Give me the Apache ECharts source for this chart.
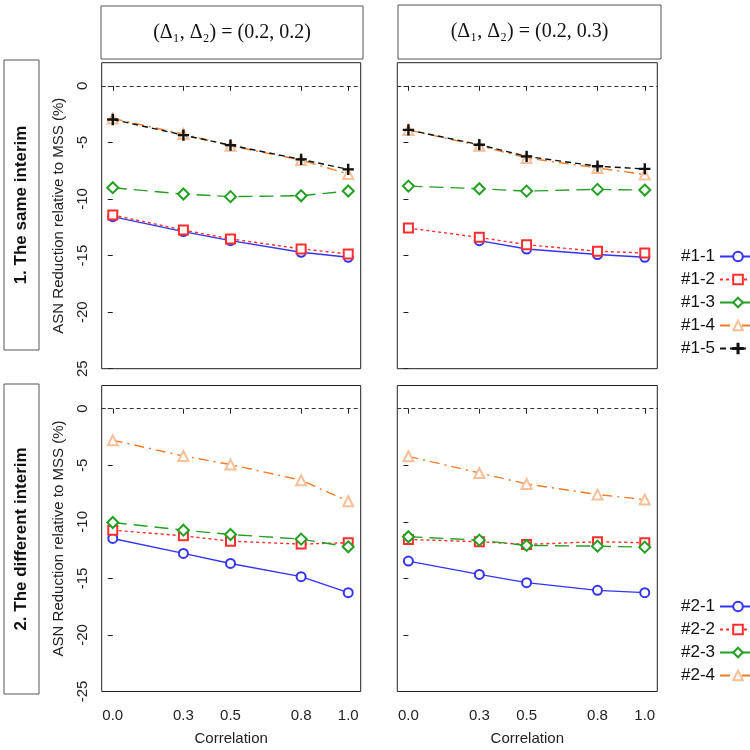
<!DOCTYPE html>
<html>
<head>
<meta charset="utf-8">
<script src="https://cdn.jsdelivr.net/npm/echarts@6/dist/echarts.min.js"></script>
<style>html,body{margin:0;padding:0;background:#fff}#c{width:750px;height:750px}</style>
</head>
<body>
<div id="c"></div>
<script>
// ---- data ----
const correlation = [0.0, 0.3, 0.5, 0.8, 1.0];
const yTicks = [-25, -20, -15, -10, -5, 0];
const colTitles = ['(Δ₁, Δ₂) = (0.2, 0.2)', '(Δ₁, Δ₂) = (0.2, 0.3)'];
const rowTitles = ['1. The same interim', '2. The different interim'];
const yName = 'ASN Reduction relative to MSS (%)';
const xName = 'Correlation';
const names1 = ['#1-1', '#1-2', '#1-3', '#1-4', '#1-5'];
const names2 = ['#2-1', '#2-2', '#2-3', '#2-4'];

// 1. same interim, (0.2,0.2)
const s11_A = [-11.56, -12.88, -13.68, -14.71, -15.15];
const s12_A = [-11.41, -12.74, -13.53, -14.41, -14.85];
const s13_A = [-9.00, -9.56, -9.79, -9.71, -9.29];
const s14_A = [-2.88, -4.26, -5.29, -6.56, -7.79];
const s15_A = [-2.97, -4.35, -5.24, -6.50, -7.38];
// 1. same interim, (0.2,0.3)
const s11_B = [null, -13.68, -14.42, -14.91, -15.15];
const s12_B = [-12.57, -13.39, -14.04, -14.62, -14.77];
const s13_B = [-8.86, -9.09, -9.30, -9.15, -9.21];
const s14_B = [-3.89, -5.29, -6.37, -7.25, -7.84];
const s15_B = [-3.89, -5.20, -6.23, -7.10, -7.34];
// 2. different interim, (0.2,0.2)
const s21_A = [-11.47, -12.79, -13.68, -14.85, -16.26];
const s22_A = [-10.74, -11.24, -11.71, -11.97, -11.85];
const s23_A = [-10.06, -10.74, -11.12, -11.53, -12.21];
const s24_A = [-2.79, -4.18, -4.94, -6.32, -8.18];
// 2. different interim, (0.2,0.3)
const s21_B = [-13.47, -14.65, -15.38, -16.06, -16.26];
const s22_B = [-11.56, -11.76, -12.00, -11.76, -11.85];
const s23_B = [-11.32, -11.62, -12.09, -12.15, -12.24];
const s24_B = [-4.21, -5.68, -6.65, -7.59, -8.03];

// ---- styles ----
const PLUS = 'path://M4.45,0H5.55V4.45H10V5.55H5.55V10H4.45V5.55H0V4.45H4.45Z';
const styles = [
  {line: '#3434f5', mark: '#3434f5', type: 'solid', symbol: 'emptyCircle', size: 9},
  {line: '#ff2e2e', mark: '#ff2e2e', type: [3, 3], symbol: 'emptyRect', size: 9},
  {line: '#22a022', mark: '#22a022', type: [14, 7], symbol: 'emptyDiamond', size: 11},
  {line: '#f27b25', mark: '#f9bf98', type: [10, 5, 2, 5], symbol: 'emptyTriangle', size: 10},
  {line: '#111111', mark: '#111111', type: [6, 4], symbol: PLUS, size: 10}
];

const FONT = 'Liberation Sans, Arial, sans-serif';
const grids = [
  {left: 101.7, top: 62.7, width: 259, height: 306},
  {left: 397.3, top: 62.7, width: 260, height: 306},
  {left: 101.7, top: 385.5, width: 259, height: 306},
  {left: 397.3, top: 385.5, width: 260, height: 306}
];

const panels = [
  {names: names1, data: [s11_A, s12_A, s13_A, s14_A, s15_A]},
  {names: names1, data: [s11_B, s12_B, s13_B, s14_B, s15_B]},
  {names: names2, data: [s21_A, s22_A, s23_A, s24_A]},
  {names: names2, data: [s21_B, s22_B, s23_B, s24_B]}
];

const xAxes = grids.map((g, i) => ({
  gridIndex: i, type: 'value', min: -0.047, max: 1.053,
  axisLine: {show: false}, splitLine: {show: false},
  axisTick: {show: true, customValues: correlation, length: 5, lineStyle: {color: '#222'}},
  axisLabel: {show: i >= 2, customValues: correlation, formatter: v => v.toFixed(1),
    margin: 17, fontSize: 15, color: '#222', fontFamily: FONT},
  name: i >= 2 ? xName : '', nameLocation: 'middle', nameGap: 40,
  nameTextStyle: {fontSize: 15, color: '#222', fontFamily: FONT}
}));

const yAxes = grids.map((g, i) => ({
  gridIndex: i, type: 'value', min: -25, max: 2.05,
  axisLine: {show: false}, splitLine: {show: false},
  axisTick: {show: true, customValues: yTicks, length: 5, lineStyle: {color: '#222'}},
  axisLabel: {show: i % 2 === 0, customValues: yTicks, rotate: 90, margin: 11,
    formatter: v => (i === 0 && v === -25) ? '25' : String(v),
    fontSize: 15, color: '#222', fontFamily: FONT},
  name: i % 2 === 0 ? yName : '', nameLocation: 'middle', nameGap: 35, nameRotate: 90,
  nameTextStyle: {fontSize: 15, color: '#222', fontFamily: FONT}
}));

const series = [];
panels.forEach((p, gi) => {
  p.data.forEach((vals, k) => {
    const st = styles[k];
    const s = {
      type: 'line', name: p.names[k], xAxisIndex: gi, yAxisIndex: gi,
      data: correlation.map((x, j) => [x, vals[j]]),
      symbol: st.symbol, symbolSize: st.size, showSymbol: true,
      lineStyle: {color: st.line, width: 1.4, type: st.type},
      itemStyle: {color: st.mark, borderColor: st.mark, borderWidth: 1.3},
      connectNulls: false, z: 3 + k
    };
    if (k === 0) {
      s.markLine = {silent: true, symbol: 'none', label: {show: false},
        lineStyle: {color: '#333', type: [4, 3], width: 1}, data: [{yAxis: 0}]};
    }
    series.push(s);
  });
});

const legendBase = {
  orient: 'vertical', left: 676, align: 'right', itemWidth: 36, itemHeight: 12,
  itemGap: 6, selectedMode: false,
  textStyle: {fontSize: 17, color: '#111', fontFamily: FONT}
};

const graphic = [];
// column headers
[[101, 6, 262, 53], [398, 5, 263, 54]].forEach((b, i) => {
  graphic.push({type: 'rect', shape: {x: b[0], y: b[1], width: b[2], height: b[3]},
    style: {fill: '#fff', stroke: '#555', lineWidth: 1}, silent: true});
  graphic.push({type: 'text', x: b[0] + b[2] / 2, y: b[1] + b[3] / 2,
    style: {text: colTitles[i], align: 'center', verticalAlign: 'middle',
      font: '20px "Liberation Serif", serif', fill: '#111'}, silent: true});
});
// row headers
[[4, 60, 35, 290], [4, 384, 35, 310]].forEach((b, i) => {
  graphic.push({type: 'rect', shape: {x: b[0], y: b[1], width: b[2], height: b[3]},
    style: {fill: '#fff', stroke: '#555', lineWidth: 1}, silent: true});
  graphic.push({type: 'text', x: b[0] + b[2] / 2, y: b[1] + b[3] / 2, rotation: Math.PI / 2,
    style: {text: rowTitles[i], align: 'center', verticalAlign: 'middle',
      font: 'bold 17px "Liberation Sans", Arial, sans-serif', fill: '#111'}, silent: true});
});

const chart = echarts.init(document.getElementById('c'), null, {renderer: 'canvas'});
chart.setOption({
  animation: false,
  backgroundColor: '#fff',
  grid: grids.map(g => Object.assign({show: true, borderColor: '#222', borderWidth: 1,
    backgroundColor: 'transparent', containLabel: false}, g)),
  xAxis: xAxes,
  yAxis: yAxes,
  legend: [
    Object.assign({}, legendBase, {data: names1, top: 243}),
    Object.assign({}, legendBase, {data: names2, top: 593})
  ],
  graphic: graphic,
  series: series
});
</script>
</body>
</html>
